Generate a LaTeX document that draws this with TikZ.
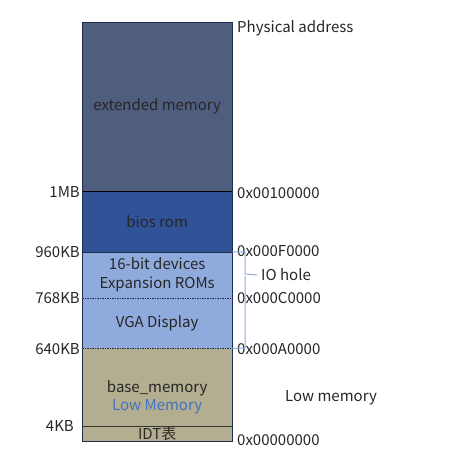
\documentclass[tikz,border=0pt]{standalone}
\usepackage{fontspec}
\setmainfont{Noto Sans CJK SC}
\definecolor{extc}{RGB}{79,93,127}
\definecolor{biosc}{RGB}{48,82,150}
\definecolor{ioc}{RGB}{143,170,220}
\definecolor{basec}{RGB}{178,174,143}
\definecolor{edgec}{RGB}{31,45,80}
\definecolor{lowc}{RGB}{68,114,196}
\definecolor{bracec}{RGB}{143,170,220}
\begin{document}
\begin{tikzpicture}[x=1pt,y=1pt,
  region/.style={draw=none,minimum width=150pt,inner sep=0pt,anchor=north west,font=\fontsize{15}{19}\selectfont,text=black!85},
  lab/.style={inner sep=0pt,font=\fontsize{15}{18}\selectfont,text=black!85},
  divline/.style={edgec,line width=0.6pt},
  dashdiv/.style={edgec,line width=0.6pt,dash pattern=on 1.5pt off 1pt}]
\useasboundingbox (0,0) rectangle (467,458);
% regions
\node[region,fill=extc,minimum height=169pt] (ext) at (82,436) {extended memory};
\node[region,fill=biosc,minimum height=61pt] (bios) at (82,267) {bios rom};
\node[region,fill=ioc,minimum height=46pt,align=center] (exp) at (82,206) {16-bit devices\\[0pt]Expansion ROMs};
\node[region,fill=ioc,minimum height=50pt] (vga) at (82,160) {VGA Display};
\node[region,fill=basec,minimum height=78pt] (base) at (82,110) {\raisebox{-14pt}[0pt][0pt]{\begin{tabular}{@{}c@{}}base\_memory\\[-1pt]\textcolor{lowc}{Low Memory}\end{tabular}}};
\node[region,fill=basec,minimum height=15pt,text=black!75!basec] (idt) at (82,32) {IDT表};
% dividers
\draw[divline,black] (bios.north west) -- (bios.north east);
\draw[divline] (exp.north west) -- (exp.north east);
\draw[dashdiv] (vga.north west) -- (vga.north east);
\draw[dashdiv] (base.north west) -- (base.north east);
\draw[divline,black!80] (idt.north west) -- (idt.north east);
\draw[edgec,line width=0.8pt] (ext.north west) rectangle (idt.south east);
% left labels
\node[lab,anchor=east] (mb1) at (80,266) {1MB};
\node[lab,anchor=east] (kb960) at (80,206) {960KB};
\node[lab,anchor=east] (kb768) at (80,160) {768KB};
\node[lab,anchor=east] (kb640) at (80,109) {640KB};
\node[lab,anchor=east] (kb4) at (74,32) {4KB};
% right labels
\node[lab,anchor=west] (pa) at (237,430) {Physical address};
\node[lab,anchor=west] (a1) at (237,265) {0x00100000};
\node[lab,anchor=west] (a2) at (237,207) {0x000F0000};
\node[lab,anchor=west] (a3) at (237,160) {0x000C0000};
\node[lab,anchor=west] (a4) at (237,109) {0x000A0000};
\node[lab,anchor=west] (a5) at (237,18) {0x00000000};
\node[lab,anchor=west] (io) at (261,183) {IO hole};
\node[lab,anchor=west] (lm) at (285,60) {Low memory};
% brace
\coordinate (bt) at (exp.north east);
\coordinate (bb) at (vga.south east);
\draw[bracec,line width=1pt] (bt) -- (245,206) -- (245,184) -- (257,183) (245,182) -- (245,110) -- (bb);
\end{tikzpicture}
\end{document}
